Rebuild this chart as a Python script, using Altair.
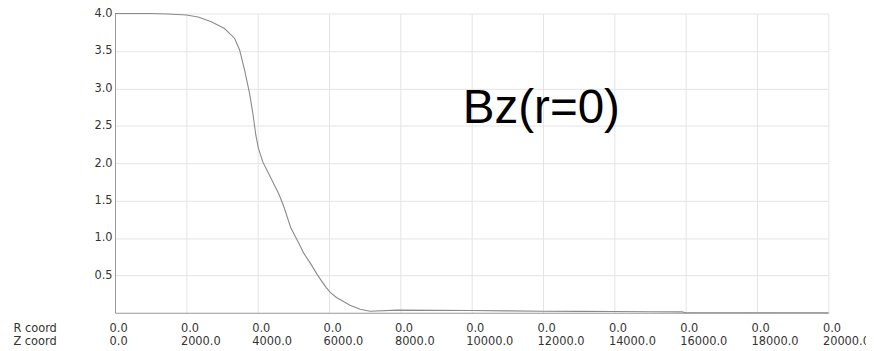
import altair as alt
import pandas as pd

z_coord = [0, 500, 1000, 1500, 2000, 2330, 2700, 3070, 3350, 3490, 3630,
           3770, 3860, 3950, 4020, 4140, 4370, 4600, 4740, 4925, 5110, 5300,
           5480, 5670, 5900, 6040, 6220, 6590, 6870, 7150, 7900, 9000, 10000,
           11000, 12000, 13000, 14000, 15000, 15900, 16000, 18000, 20000]
bz = [4.0, 4.0, 4.0, 3.995, 3.98, 3.955, 3.89, 3.80, 3.67, 3.52, 3.25,
      2.94, 2.68, 2.37, 2.20, 2.02, 1.80, 1.58, 1.41, 1.14, 0.97, 0.79,
      0.66, 0.51, 0.35, 0.27, 0.20, 0.10, 0.046, 0.02, 0.035, 0.032, 0.03,
      0.025, 0.02, 0.018, 0.016, 0.014, 0.012, 0.0, 0.0, 0.0]

x_ticks = [0, 2000, 4000, 6000, 8000, 10000, 12000, 14000, 16000, 18000, 20000]
y_ticks = [0.5, 1.0, 1.5, 2.0, 2.5, 3.0, 3.5, 4.0]
row_titles = ["R coord", "Z coord"]
annotation = "Bz(r=0)"

df = pd.DataFrame({"z": z_coord, "bz": bz})

TICK_FONT = "DejaVu Sans"
BIG_FONT = "Liberation Sans"

x_enc = alt.X(
    "z:Q",
    scale=alt.Scale(domain=[0, 20000], nice=False),
    axis=alt.Axis(
        values=x_ticks,
        labelExpr="['0.0', format(datum.value, '.1f')]",
        labelAlign="left",
        labelBaseline="top",
        labelOffset=-6,
        labelPadding=10,
        labelLineHeight=13,
        labelFontSize=11.5,
        labelFont=TICK_FONT,
        labelColor="#333333",
        labelOverlap=False,
        labelFlush=False,
        ticks=False,
        domainColor="#999999",
        gridColor="#e4e4e4",
        title=row_titles,
        titleFont=TICK_FONT,
        titleFontSize=11.5,
        titleFontWeight="normal",
        titleColor="#333333",
        titleAlign="left",
        titleBaseline="top",
        titleLineHeight=13,
        titleX=-103,
        titleY=10,
        titleAngle=0,
    ),
)

y_enc = alt.Y(
    "bz:Q",
    scale=alt.Scale(domain=[0, 4], nice=False),
    axis=alt.Axis(
        values=y_ticks,
        format=".1f",
        labelFontSize=11.5,
        labelFont=TICK_FONT,
        labelColor="#333333",
        labelPadding=3,
        ticks=False,
        domainColor="#999999",
        gridColor="#e4e4e4",
        title=None,
    ),
)

line = alt.Chart(df).mark_line(color="#8a8a8a", strokeWidth=1.1).encode(x=x_enc, y=y_enc)

label_df = pd.DataFrame({"z": [9750], "bz": [2.54], "t": [annotation]})
text = alt.Chart(label_df).mark_text(
    font=BIG_FONT, fontSize=48, color="#000000", align="left", baseline="alphabetic"
).encode(x="z:Q", y="bz:Q", text="t:N")

chart = (
    alt.layer(line, text)
    .properties(
        width=720,
        height=302,
        autosize=alt.AutoSizeParams(type="none"),
        padding={"left": 108, "top": 4, "right": 38, "bottom": 37},
    )
    .configure_view(stroke=None)
)

chart.save("out.html", embed_options={"renderer": "svg", "actions": False})
